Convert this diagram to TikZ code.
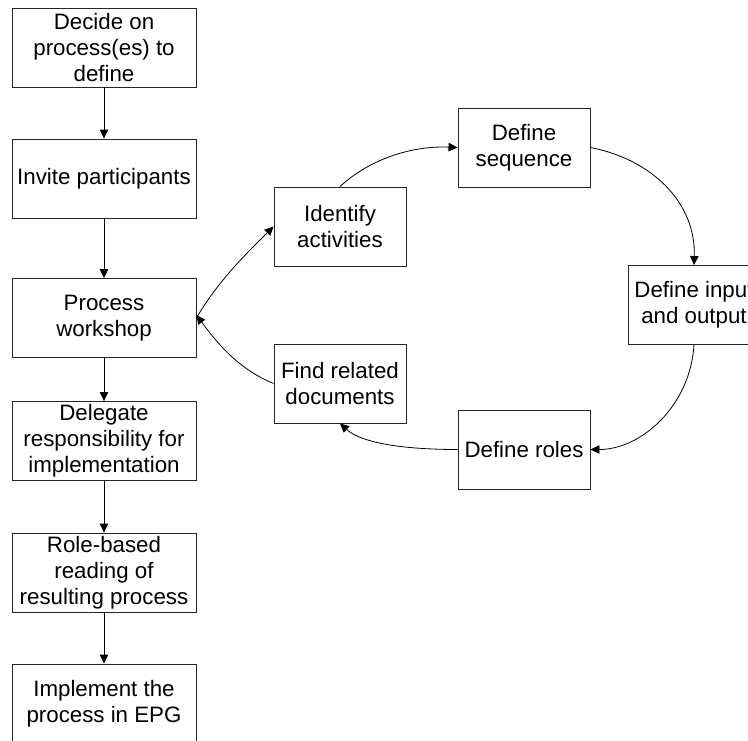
\documentclass[tikz,border=0pt]{standalone}
\usepackage{fontspec}
\setmainfont{Liberation Sans}
\usetikzlibrary{arrows.meta}
\begin{document}
\begin{tikzpicture}[x=1pt,y=-1pt,
  stepbox/.style={draw=black!85, line width=0.9pt, fill=white, align=center,
    inner sep=0pt, font=\fontsize{22.3}{26}\selectfont},
  leftbox/.style={stepbox, minimum width=184pt, minimum height=79pt},
  cyclebox/.style={stepbox, minimum width=132pt, minimum height=79pt},
  flow/.style={line width=0.9pt, -{Triangle[length=9pt,width=8.5pt]}},
  loop/.style={line width=0.8pt, -{Triangle[length=9pt,width=8.5pt]}}]
  \useasboundingbox (0,0) rectangle (748,740);
  \clip (0,0) rectangle (748,740);

  % main sequence on the left
  \node[leftbox] (decide)   at (104,47.5)  {Decide on\\process(es) to\\define};
  \node[leftbox] (invite)   at (104,178.5) {Invite participants};
  \node[leftbox] (workshop) at (104,318)   {Process\\workshop};
  \node[leftbox] (delegate) at (104,441)   {Delegate\\responsibility for\\implementation};
  \node[leftbox] (reading)  at (104,572.5) {Role-based\\reading of\\resulting process};
  \node[leftbox] (implement) at (104,703.5) {Implement the\\process in EPG};

  % workshop cycle
  \node[cyclebox] (identify) at (340,226.5) {Identify\\activities};
  \node[cyclebox] (sequence) at (524,147.5) {Define\\sequence};
  \node[cyclebox] (inout)    at (694,305)   {Define input\\and output};
  \node[cyclebox] (roles)    at (524,449.5) {Define roles};
  \node[cyclebox] (related)  at (340,383.5) {Find related\\documents};

  % vertical flow
  \draw[flow] (decide) -- (invite);
  \draw[flow] (invite) -- (workshop);
  \draw[flow] (workshop) -- (delegate);
  \draw[flow] (delegate) -- (reading);
  \draw[flow] (reading) -- (implement);

  % cycle arcs
  \draw[loop] (workshop.east) .. controls +(22,-38) and +(-24,24) .. (identify.west);
  \draw[loop] (identify.north) .. controls +(28,-26) and +(-48,-2) .. (sequence.west);
  \draw[loop] (sequence.east) .. controls +(62,12) and +(2,-62) .. (inout.north);
  \draw[loop] (inout.south) .. controls +(-4,62) and +(50,0) .. (roles.east);
  \draw[loop] (roles.west) .. controls +(-52,0) and +(22,20) .. (related.south);
  \draw[loop] (related.west) .. controls +(-34,-14) and +(22,30) .. ([yshift=3pt]workshop.east);
\end{tikzpicture}
\end{document}
